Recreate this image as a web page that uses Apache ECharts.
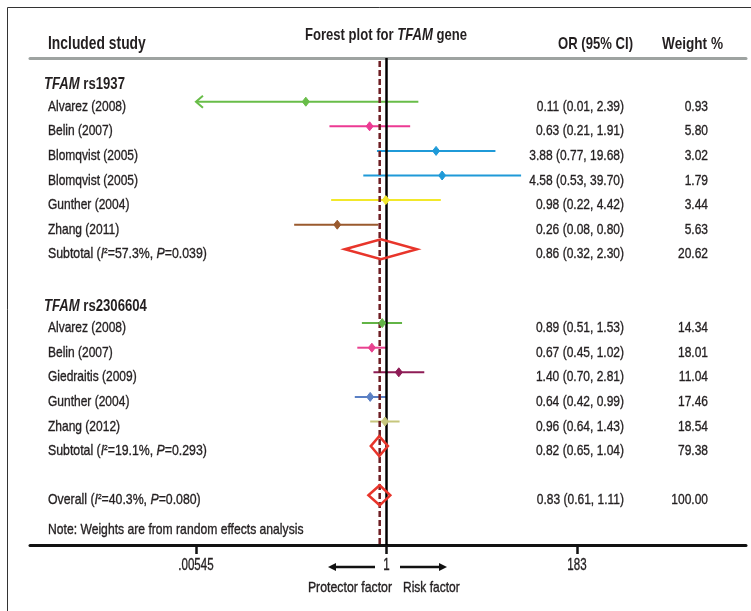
<!DOCTYPE html>
<html><head><meta charset="utf-8">
<script src="https://cdn.jsdelivr.net/npm/echarts@6/dist/echarts.min.js"></script>
<style>html,body{margin:0;padding:0;background:#fff}#c{width:751px;height:611px}</style>
</head><body><div id="c"></div>
<script>
// ---------- data ----------
const groupNames = ['rs1937', 'rs2306604'];
const studyNames = ['Alvarez (2008)', 'Belin (2007)', 'Blomqvist (2005)', 'Blomqvist (2005)', 'Gunther (2004)', 'Zhang (2011)',
  'Alvarez (2008)', 'Belin (2007)', 'Giedraitis (2009)', 'Gunther (2004)', 'Zhang (2012)'];
const studyGroup = [0, 0, 0, 0, 0, 0, 1, 1, 1, 1, 1];
const orValues = [0.11, 0.63, 3.88, 4.58, 0.98, 0.26, 0.89, 0.67, 1.40, 0.64, 0.96];
const ciLower = [0.0052, 0.21, 0.77, 0.53, 0.22, 0.08, 0.51, 0.45, 0.70, 0.42, 0.64];
const ciUpper = [2.39, 1.91, 19.68, 39.70, 4.42, 0.80, 1.53, 1.02, 2.81, 0.99, 1.43];
const weights = [0.93, 5.80, 3.02, 1.79, 3.44, 5.63, 14.34, 18.01, 11.04, 17.46, 18.54];

const pooledLabels = ['Subtotal', 'Subtotal', 'Overall'];
const pooledI2 = [57.3, 19.1, 40.3];
const pooledP = ['0.039', '0.293', '0.080'];
const pooledOR = [0.86, 0.82, 0.83];
const pooledLower = [0.32, 0.65, 0.61];
const pooledUpper = [2.30, 1.04, 1.11];
const pooledWeight = [20.62, 79.38, 100.00];

const referenceValues = [1, pooledOR[pooledOR.length - 1]]; // null line and overall estimate
const tickValues = [0.00545, 1, 183];
const tickLabels = ['.00545', '1', '183'];

// ---------- styles ----------
const studyColors = ['#68bd48', '#ec3a93', '#1f9ad8', '#1f9ad8', '#f2e82a', '#9a5a2e',
  '#62b446', '#e9418f', '#8e1c56', '#5b80c4', '#c6c67c'];
const FONT = '"Liberation Sans", Arial, sans-serif';
const TXT = '#231f20';
const NARROW = 0.8;      // emulate the condensed face of the original
const NARROW_B = 0.77;
const L = v => Math.log10(v);
const fmt = v => v.toFixed(2);

// ---------- rows ----------
const headerRows = [], studyRows = [], pooledRows = [];
let r = 0;
groupNames.forEach((g, gi) => {
  headerRows.push(r); r++;
  studyGroup.forEach((sg, si) => { if (sg === gi) { studyRows[si] = r; r++; } });
  pooledRows.push(r); r++;
  r++;
});
pooledRows.push(r);

const tMin = L(tickValues[0]), tMax = L(tickValues[tickValues.length - 1]);

const studyData = orValues.map((v, i) => [L(v), L(ciLower[i]), L(ciUpper[i]), studyRows[i]]);
const pooledData = pooledOR.map((v, i) => [L(v), L(pooledLower[i]), L(pooledUpper[i]), pooledRows[i]]);
const headerData = groupNames.map((g, i) => [0, headerRows[i]]);
const tickData = tickValues.map(v => [L(v)]);
const refData = referenceValues.map(v => [L(v)]);

function txt(x, y, text, extra, sx) {
  return { type: 'text', x: x, y: y, scaleX: sx || NARROW, style: Object.assign({
    text: text, fill: TXT, fontFamily: FONT, fontSize: 15, align: 'left', verticalAlign: 'middle',
    stroke: TXT, lineWidth: 0.35
  }, extra || {}) };
}

const chart = echarts.init(document.getElementById('c'), null, { renderer: 'canvas' });
chart.setOption({
  animation: false,
  backgroundColor: '#fff',
  grid: { left: 30, right: 5, top: 58, bottom: 66, containLabel: false },
  xAxis: [{
    type: 'value', min: -4.235, max: 4.2706, position: 'bottom',
    axisLine: { onZero: false, lineStyle: { color: '#111', width: 3 } },
    axisTick: { customValues: tickValues.map(L), length: 9, lineStyle: { color: '#111', width: 2.5 } },
    axisLabel: { show: false },
    splitLine: { show: false }
  }, {
    type: 'value', min: -4.235, max: 4.2706, position: 'top',
    axisLine: { onZero: false, lineStyle: { color: '#9ea3a1', width: 3 } },
    axisTick: { show: false }, axisLabel: { show: false }, splitLine: { show: false }
  }],
  yAxis: { type: 'value', inverse: true, min: -0.776, max: 19.02, show: false },
  series: [{
    // confidence intervals + text columns
    type: 'custom', name: 'studies', data: studyData, z: 2,
    encode: { x: [0, 1, 2], y: 3 },
    renderItem: (params, api) => {
      const i = params.dataIndex;
      const y = api.coord([0, api.value(3)])[1];
      const lo = api.value(1), hi = api.value(2);
      const xl = api.coord([Math.max(lo, tMin), 0])[0];
      const xh = api.coord([Math.min(hi, tMax), 0])[0];
      const c = studyColors[i];
      const ch = [
        { type: 'line', shape: { x1: xl, y1: y, x2: xh, y2: y }, style: { stroke: c, lineWidth: 2 } },
        txt(48, y + 5, studyNames[i]),
        txt(624, y + 5, fmt(orValues[i]) + ' (' + fmt(ciLower[i]) + ', ' + fmt(ciUpper[i]) + ')', { align: 'right' }),
        txt(708, y + 5, fmt(weights[i]), { align: 'right' })
      ];
      if (lo < tMin) ch.push({ type: 'polyline', shape: { points: [[xl + 7, y - 6], [xl, y], [xl + 7, y + 6]] }, style: { stroke: c, lineWidth: 2, fill: null } });
      if (hi > tMax) ch.push({ type: 'polyline', shape: { points: [[xh - 7, y - 6], [xh, y], [xh - 7, y + 6]] }, style: { stroke: c, lineWidth: 2, fill: null } });
      return { type: 'group', children: ch };
    }
  }, {
    // vertical reference lines (OR = 1 and overall estimate)
    type: 'custom', name: 'reference', data: refData, z: 3,
    encode: { x: 0 },
    renderItem: (params, api) => {
      const k = params.dataIndex;
      const cs = params.coordSys;
      const x = api.coord([api.value(0), 0])[0];
      return k === 0
        ? { type: 'line', shape: { x1: x, y1: cs.y, x2: x, y2: cs.y + cs.height }, style: { stroke: '#000', lineWidth: 2.5 } }
        : { type: 'line', shape: { x1: x, y1: cs.y + 3, x2: x, y2: cs.y + cs.height }, style: { stroke: '#6d1d22', lineWidth: 2.5, lineDash: [6, 3] } };
    }
  }, {
    // point estimates
    type: 'custom', name: 'points', data: studyData, z: 4,
    encode: { x: 0, y: 3 },
    renderItem: (params, api) => {
      const i = params.dataIndex;
      const y = api.coord([0, api.value(3)])[1];
      const xo = api.coord([api.value(0), 0])[0];
      const c = studyColors[i];
      return { type: 'polygon', shape: { points: [[xo, y - 4.5], [xo + 3.5, y], [xo, y + 4.5], [xo - 3.5, y]] }, style: { fill: c, stroke: c, lineWidth: 1 } };
    }
  }, {
    type: 'custom', name: 'pooled', data: pooledData, z: 4,
    encode: { x: [0, 1, 2], y: 3 },
    renderItem: (params, api) => {
      const k = params.dataIndex;
      const y = api.coord([0, api.value(3)])[1];
      const xo = api.coord([api.value(0), 0])[0];
      const xl = api.coord([api.value(1), 0])[0];
      const xh = api.coord([api.value(2), 0])[0];
      return { type: 'group', children: [
        { type: 'polygon', shape: { points: [[xl, y], [xo, y - 10], [xh, y], [xo, y + 10]] }, style: { fill: null, stroke: '#e8352b', lineWidth: 2.5 } },
        txt(48, y + 5, pooledLabels[k] + ' ({it|I}{sup|2}=' + pooledI2[k].toFixed(1) + '%, {it|P}=' + pooledP[k] + ')', {
          rich: {
            it: { fontStyle: 'italic', fontFamily: FONT, fontSize: 15, fill: TXT, stroke: TXT, lineWidth: 0.35 },
            sup: { fontFamily: FONT, fontSize: 8, fill: TXT, padding: [0, 0, 7, 0] }
          }
        }, 0.82),
        txt(624, y + 5, fmt(pooledOR[k]) + ' (' + fmt(pooledLower[k]) + ', ' + fmt(pooledUpper[k]) + ')', { align: 'right' }),
        txt(708, y + 5, fmt(pooledWeight[k]), { align: 'right' })
      ] };
    }
  }, {
    type: 'custom', name: 'headers', data: headerData, z: 4,
    encode: { y: 1 },
    renderItem: (params, api) => {
      const k = params.dataIndex;
      const y = api.coord([0, api.value(1)])[1];
      return txt(44, y + 8, '{bi|TFAM} ' + groupNames[k], {
        fontWeight: 'bold', fontSize: 16, lineWidth: 0,
        rich: { bi: { fontStyle: 'italic', fontWeight: 'bold', fontFamily: FONT, fontSize: 16, fill: TXT } }
      }, 0.82);
    }
  }, {
    type: 'custom', name: 'tickLabels', data: tickData, z: 4, clip: false,
    encode: { x: 0 },
    renderItem: (params, api) => {
      const k = params.dataIndex;
      const cs = params.coordSys;
      const x = api.coord([api.value(0), 0])[0];
      return txt(x, cs.y + cs.height + 20, tickLabels[k], { align: 'center', fontSize: 16.5 }, 0.7);
    }
  }],
  graphic: [
    { type: 'rect', shape: { x: 7.5, y: 7.5, width: 800, height: 700 }, style: { fill: null, stroke: '#333', lineWidth: 1 }, z: 0 },
    { type: 'text', x: 48, y: 44, scaleX: NARROW_B, style: { text: 'Included study', fontFamily: FONT, fontSize: 18, fontWeight: 'bold', fill: TXT, verticalAlign: 'middle' } },
    { type: 'text', x: 386, y: 35, scaleX: NARROW_B, style: {
      text: 'Forest plot for {bi|TFAM} gene', fontFamily: FONT, fontSize: 17, fontWeight: 'bold', fill: TXT, align: 'center', verticalAlign: 'middle',
      rich: { bi: { fontStyle: 'italic', fontWeight: 'bold', fontFamily: FONT, fontSize: 17, fill: TXT } } } },
    { type: 'text', x: 633, y: 44, scaleX: NARROW_B, style: { text: 'OR (95% CI)', fontFamily: FONT, fontSize: 17, fontWeight: 'bold', fill: TXT, align: 'right', verticalAlign: 'middle' } },
    { type: 'text', x: 723, y: 44, scaleX: 0.8, style: { text: 'Weight %', fontFamily: FONT, fontSize: 17, fontWeight: 'bold', fill: TXT, align: 'right', verticalAlign: 'middle' } },
    { type: 'text', x: 48, y: 530, scaleX: 0.81, style: { text: 'Note: Weights are from random effects analysis', fontFamily: FONT, fontSize: 15, fill: TXT, stroke: TXT, lineWidth: 0.35, verticalAlign: 'middle' } },
    { type: 'line', shape: { x1: 375, y1: 567, x2: 333, y2: 567 }, style: { stroke: '#111', lineWidth: 2.5 } },
    { type: 'polygon', shape: { points: [[328, 567], [336, 563], [336, 571]] }, style: { fill: '#111' } },
    { type: 'line', shape: { x1: 400, y1: 567, x2: 442, y2: 567 }, style: { stroke: '#111', lineWidth: 2.5 } },
    { type: 'polygon', shape: { points: [[447, 567], [439, 563], [439, 571]] }, style: { fill: '#111' } },
    { type: 'text', x: 392, y: 588, scaleX: 0.82, style: { text: 'Protector factor', fontFamily: FONT, fontSize: 15, fill: TXT, stroke: TXT, lineWidth: 0.35, align: 'right', verticalAlign: 'middle' } },
    { type: 'text', x: 403, y: 588, scaleX: 0.8, style: { text: 'Risk factor', fontFamily: FONT, fontSize: 15, fill: TXT, stroke: TXT, lineWidth: 0.35, align: 'left', verticalAlign: 'middle' } }
  ]
});
</script>
</body></html>
